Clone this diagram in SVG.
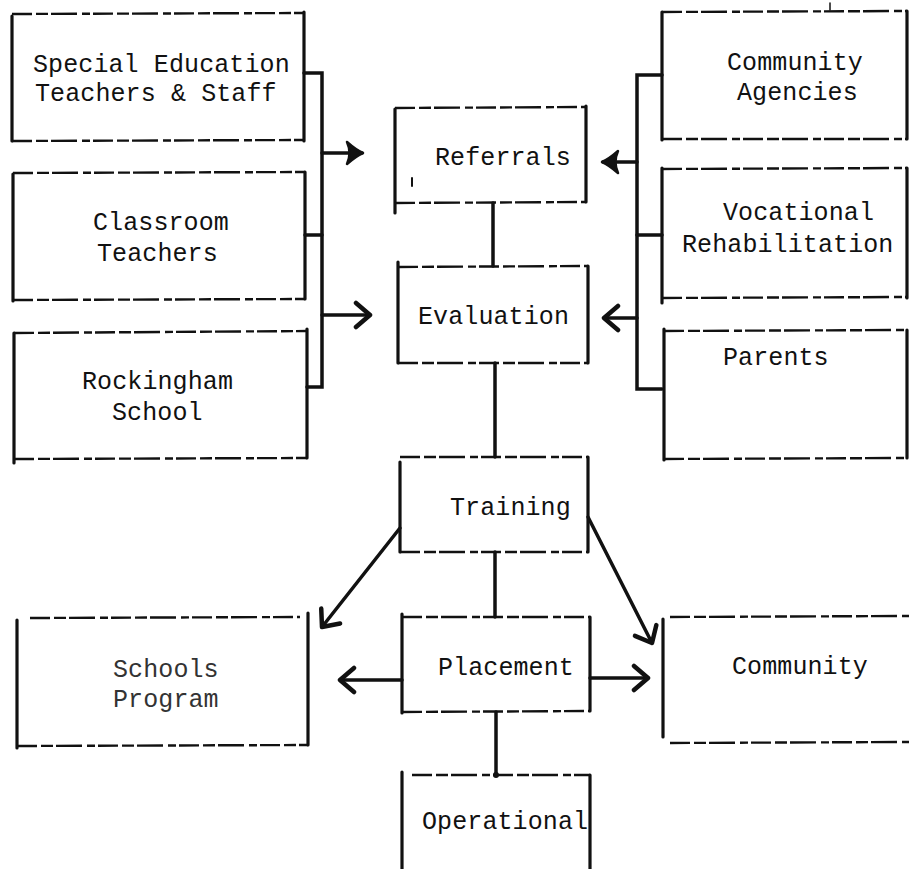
<svg xmlns="http://www.w3.org/2000/svg" width="909" height="869" viewBox="0 0 909 869">
<style>
.side{stroke:#111;stroke-width:3.2;fill:none;stroke-linecap:round}
.dash{stroke:#111;stroke-width:2.4;fill:none;stroke-dasharray:20 4 12 3 26 5 8 3}
.lbl{font-family:"Liberation Mono","DejaVu Sans Mono",monospace;font-size:25px;letter-spacing:0.1px;fill:#111}
.faint{fill:#333}
.con{stroke:#111;stroke-width:3.5;fill:none;stroke-linecap:round}
</style>
<defs>
<marker id="chev" markerUnits="userSpaceOnUse" markerWidth="24" markerHeight="30" viewBox="0 0 24 30" refX="20" refY="15" orient="auto">
<path d="M6,3 L20,15 L6,27" stroke="#111" stroke-width="4.5" fill="none" stroke-linecap="round" stroke-linejoin="round"/>
</marker>
<marker id="solid" markerUnits="userSpaceOnUse" markerWidth="24" markerHeight="30" viewBox="0 0 24 30" refX="20" refY="15" orient="auto">
<path d="M5,4 Q14,12 21,15 Q14,18 5,26 Q10,15 5,4 Z" fill="#111" stroke="#111" stroke-width="2.5" stroke-linejoin="round"/>
</marker>
</defs>
<rect width="909" height="869" fill="#fff"/>

<g id="special-education">
<line class="side" x1="12" y1="16" x2="12" y2="141"/>
<line class="side" x1="304" y1="12" x2="304" y2="141"/>
<line class="dash" x1="12" y1="14" x2="304" y2="13"/>
<line class="dash" x1="12" y1="141" x2="304" y2="140"/>
<text class="lbl" x="33" y="72">Special Education</text>
<text class="lbl" x="35" y="101">Teachers &amp; Staff</text>
</g>

<g id="classroom-teachers">
<line class="side" x1="13" y1="174" x2="13" y2="301"/>
<line class="side" x1="305" y1="172" x2="305" y2="299"/>
<line class="dash" x1="13" y1="173" x2="305" y2="172"/>
<line class="dash" x1="13" y1="300" x2="305" y2="299"/>
<text class="lbl" x="93" y="230">Classroom</text>
<text class="lbl" x="97" y="261">Teachers</text>
</g>

<g id="rockingham-school">
<line class="side" x1="14" y1="333" x2="14" y2="463"/>
<line class="side" x1="307" y1="329" x2="307" y2="458"/>
<line class="dash" x1="14" y1="333" x2="307" y2="331"/>
<line class="dash" x1="14" y1="459" x2="307" y2="458"/>
<text class="lbl" x="82" y="389">Rockingham</text>
<text class="lbl" x="112" y="420">School</text>
</g>

<g id="community-agencies">
<line class="side" x1="662" y1="12" x2="662" y2="140"/>
<line class="side" x1="907" y1="11" x2="907" y2="139"/>
<line class="dash" x1="662" y1="12" x2="907" y2="11"/>
<line class="dash" x1="662" y1="139" x2="907" y2="139"/>
<line class="side" x1="830" y1="3" x2="830" y2="10" style="stroke-width:1.5"/>
<text class="lbl" x="727" y="70">Community</text>
<text class="lbl" x="737" y="100">Agencies</text>
</g>

<g id="vocational-rehabilitation">
<line class="side" x1="662" y1="168" x2="662" y2="303"/>
<line class="side" x1="907" y1="168" x2="907" y2="298"/>
<line class="dash" x1="662" y1="169" x2="907" y2="168"/>
<line class="dash" x1="662" y1="298" x2="907" y2="297"/>
<text class="lbl" x="723" y="220">Vocational</text>
<text class="lbl" x="682" y="252">Rehabilitation</text>
</g>

<g id="parents">
<line class="side" x1="664" y1="329" x2="664" y2="460"/>
<line class="side" x1="907" y1="330" x2="907" y2="458"/>
<line class="dash" x1="664" y1="331" x2="907" y2="330"/>
<line class="dash" x1="664" y1="459" x2="907" y2="458"/>
<text class="lbl" x="723" y="365">Parents</text>
</g>

<g id="referrals">
<line class="side" x1="395" y1="109" x2="395" y2="213"/>
<line class="side" x1="586" y1="106" x2="586" y2="202"/>
<line class="dash" x1="395" y1="108" x2="586" y2="107"/>
<line class="dash" x1="395" y1="203" x2="586" y2="202"/>
<line class="side" x1="412" y1="178" x2="412" y2="186" style="stroke-width:2"/>
<text class="lbl" x="435" y="165">Referrals</text>
</g>

<g id="evaluation">
<line class="side" x1="398" y1="262" x2="398" y2="363"/>
<line class="side" x1="588" y1="266" x2="588" y2="363"/>
<line class="dash" x1="398" y1="267" x2="588" y2="266"/>
<line class="dash" x1="398" y1="363" x2="588" y2="363"/>
<text class="lbl" x="418" y="324">Evaluation</text>
</g>

<g id="training">
<line class="side" x1="400" y1="462" x2="400" y2="552"/>
<line class="side" x1="588" y1="457" x2="588" y2="552"/>
<line class="dash" x1="400" y1="457" x2="588" y2="457"/>
<line class="dash" x1="400" y1="552" x2="588" y2="552"/>
<text class="lbl" x="450" y="515">Training</text>
</g>

<g id="placement">
<line class="side" x1="402" y1="614" x2="402" y2="713"/>
<line class="side" x1="590" y1="617" x2="590" y2="711"/>
<line class="dash" x1="402" y1="617" x2="590" y2="617"/>
<line class="dash" x1="402" y1="712" x2="590" y2="711"/>
<text class="lbl" x="438" y="675">Placement</text>
</g>

<g id="operational">
<line class="side" x1="402" y1="772" x2="402" y2="869"/>
<line class="side" x1="590" y1="775" x2="590" y2="869"/>
<line class="dash" x1="412" y1="775" x2="590" y2="775"/>
<text class="lbl" x="422" y="829">Operational</text>
</g>

<g id="schools-program">
<line class="side" x1="17" y1="620" x2="17" y2="748"/>
<line class="side" x1="308" y1="613" x2="308" y2="745"/>
<line class="dash" x1="30" y1="618" x2="300" y2="617"/>
<line class="dash" x1="17" y1="746" x2="308" y2="745"/>
<text class="lbl faint" x="113" y="677">Schools</text>
<text class="lbl faint" x="113" y="707">Program</text>
</g>

<g id="community">
<line class="side" x1="663" y1="619" x2="663" y2="737"/>
<line class="dash" x1="670" y1="617" x2="909" y2="616"/>
<line class="dash" x1="670" y1="743" x2="909" y2="742"/>
<text class="lbl" x="732" y="674">Community</text>
</g>

<g id="connectors">
<path class="con" d="M304,73 H322 V387 H307"/>
<path class="con" d="M305,235 H322"/>
<line class="con" x1="322" y1="153" x2="362" y2="153" marker-end="url(#solid)"/>
<line class="con" x1="322" y1="315" x2="370" y2="315" marker-end="url(#chev)"/>
<path class="con" d="M662,75 H637 V389 H662"/>
<path class="con" d="M637,235 H662"/>
<line class="con" x1="637" y1="162" x2="603" y2="162" marker-end="url(#solid)"/>
<line class="con" x1="637" y1="318" x2="604" y2="318" marker-end="url(#chev)"/>
<line class="con" x1="493" y1="203" x2="493" y2="266"/>
<line class="con" x1="495" y1="363" x2="495" y2="457"/>
<line class="con" x1="495" y1="552" x2="495" y2="617"/>
<line class="con" x1="496" y1="712" x2="496" y2="775"/>
<circle cx="496" cy="775" r="3" fill="#111"/>
<line class="con" x1="400" y1="528" x2="322" y2="627" marker-end="url(#chev)"/>
<line class="con" x1="588" y1="517" x2="652" y2="643" marker-end="url(#chev)"/>
<line class="con" x1="402" y1="680" x2="340" y2="680" marker-end="url(#chev)"/>
<line class="con" x1="590" y1="678" x2="648" y2="678" marker-end="url(#chev)"/>
</g>
</svg>
